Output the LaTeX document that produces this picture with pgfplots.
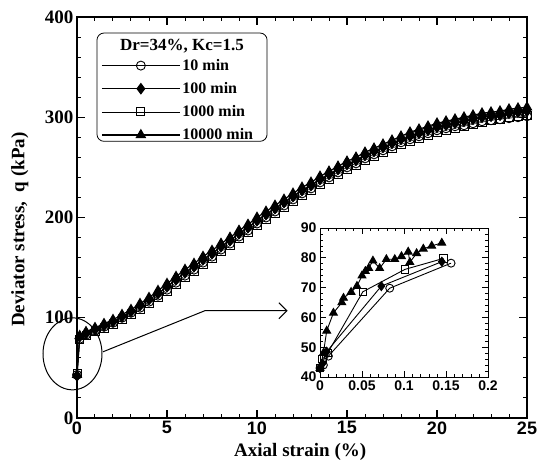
\documentclass[border=0pt]{standalone}
\usepackage{fontspec}
\setmainfont{Liberation Serif}
\setsansfont{Liberation Sans}
\usepackage{pgfplots}
\usepackage{pgfplotstable}
\pgfplotsset{compat=1.18}
\usetikzlibrary{arrows.meta}

% strain (%) vs deviator stress q (kPa), four ageing times
\pgfplotstableread{
x    q10  q100 q1000 q10000
0    43   42   44    43
0.15 79   81   78    82
0.5  83   84   82    86
1.0  87   88   86    90
1.5  91   92   89    94
2.0  95   96   93    98
2.5  100  101  98    103
3.0  105  106  103   108
3.5  110  112  108   114
4.0  116  118  114   120
4.5  122  124  120   127
5.0  128  131  126   134
5.5  135  138  133   141
6.0  142  145  140   148
6.5  148  151  146   154
7.0  155  158  153   161
7.5  161  164  159   167
8.0  168  171  166   174
8.5  174  177  172   180
9.0  181  184  179   187
9.5  187  190  185   193
10   194  197  192   200
10.5 200  203  198   206
11   206  209  204   212
11.5 212  215  210   218
12   218  221  216   224
12.5 224  227  222   230
13   229  232  227   235
13.5 235  238  233   241
14   240  243  238   246
14.5 245  248  243   251
15   250  253  248   256
15.5 254  257  252   260
16   259  262  257   265
16.5 263  266  261   269
17   267  270  265   273
17.5 271  274  269   277
18   275  278  273   281
18.5 278  281  276   285
19   281  284  279   288
19.5 284  287  282   291
20   287  290  285   294
20.5 289  292  287   296
21   291  294  289   298
21.5 292  296  291   300
22   294  298  293   302
22.5 296  300  295   304
23   297  301  297   305
23.5 298  302  298   306
24   299  304  300   308
24.5 300  305  301   309
25   301  306  302   310
}\maindata

% inset: small strains
\pgfplotstableread{
x     q
0     43
0.004 44
0.010 47
0.083 69.8
0.156 78.2
}\insA
\pgfplotstableread{
x     q
0     43
0.003 44.5
0.008 48.5
0.073 70.5
0.145 78.7
}\insB
\pgfplotstableread{
x     q
0     43
0.003 46
0.009 48
0.051 68.6
0.101 76.1
0.147 79.8
}\insC
\pgfplotstableread{
x     q
0     43
0.004 48
0.008 55.5
0.016 61.5
0.026 65
0.028 66.5
0.037 68.5
0.044 70.5
0.050 74
0.054 75.5
0.058 76.5
0.063 79
0.071 76.5
0.079 79.5
0.089 79.5
0.097 80.5
0.105 82
0.107 78.5
0.115 81.5
0.123 83
0.133 84
0.145 85
}\insD

\pgfplotsset{
  sA/.style={black, line width=0.5pt, mark=o, mark size=4.5pt,
    mark options={solid, fill=white, line width=0.9pt}},
  sB/.style={black, line width=1.2pt, mark=diamond*, mark size=5pt,
    mark options={solid, fill=black}},
  sC/.style={black, line width=0.5pt, mark=square, mark size=4pt,
    mark options={solid, fill=white, line width=0.9pt}},
  sD/.style={black, line width=1.2pt, mark=triangle*, mark size=5pt,
    mark options={solid, fill=black}},
}

\begin{document}
\begin{tikzpicture}
\begin{axis}[
  scale only axis,
  width=450pt, height=401pt,
  xmin=0, xmax=25, ymin=0, ymax=400,
  xtick={0,5,...,25}, ytick={0,100,...,400},
  minor x tick num=4, minor y tick num=4,
  tick pos=both, tick align=inside,
  major tick length=8pt, minor tick length=4pt,
  major tick style={line width=1.2pt, black},
  minor tick style={line width=1pt, black},
  axis line style={line width=1.6pt},
  clip=false,
  /pgf/number format/assume math mode=true,
  xticklabel style={font=\sffamily\bfseries\fontsize{18}{20}\selectfont},
  yticklabel style={font=\bfseries\fontsize{19}{21}\selectfont},
  xlabel={Axial strain (\%)},
  ylabel={Deviator stress,\ \ q (kPa)},
  label style={font=\bfseries\fontsize{19}{22}\selectfont},
  xlabel style={at={(axis description cs:0.496,-0.085)}, anchor=center},
  ylabel style={at={(axis description cs:-0.127,0.47)}, anchor=center},
  legend image code/.code={
    \draw[mark repeat=2, mark phase=2, #1]
      plot coordinates {(0pt,0pt) (39pt,0pt) (78pt,0pt)};},
  legend style={at={(axis cs:1.17,362)}, anchor=north west,
    draw=none, fill=none, row sep=6.5pt,
    font=\bfseries\fontsize{16}{18}\selectfont},
  legend cell align=left,
]
\addlegendimage{sA}
\addlegendentry{10 min}
\addlegendimage{sB}
\addlegendentry{100 min}
\addlegendimage{sC}
\addlegendentry{1000 min}
\addlegendimage{sD}
\addlegendentry{10000 min}

\addplot[sD, forget plot] table[x=x, y=q10000] {\maindata};
\addplot[sB, forget plot] table[x=x, y=q100] {\maindata};
\addplot[sC, forget plot] table[x=x, y=q1000] {\maindata};
\addplot[sA, forget plot] table[x=x, y=q10] {\maindata};

\draw[rounded corners=7pt, line width=0.8pt]
  (axis cs:1.11,384) rectangle (axis cs:10.56,276);
\node[font=\bfseries\fontsize{17}{20}\selectfont]
  at (axis cs:5.83,371) {Dr=34\%, Kc=1.5};

\draw[line width=1pt] (axis cs:-0.25,64) ellipse (29.5pt and 36pt);
\draw[line width=1pt, -{Straight Barb[length=8pt, width=16pt]}]
  (axis cs:1.44,66) -- (axis cs:7.1,107) -- (axis cs:11.7,107);
\end{axis}

\begin{axis}[
  at={(243pt,41pt)}, anchor=south west,
  scale only axis,
  width=168pt, height=149pt,
  xmin=0, xmax=0.2, ymin=40, ymax=90,
  xtick={0,0.05,0.1,0.15,0.2},
  xticklabels={0,0.05,0.1,0.15,0.2},
  ytick={40,50,...,90},
  minor x tick num=4, minor y tick num=4,
  tick pos=both, tick align=inside,
  major tick length=6pt, minor tick length=3pt,
  major tick style={line width=0.9pt, black},
  minor tick style={line width=0.7pt, black},
  axis line style={line width=1pt},
  clip=false,
  /pgf/number format/assume math mode=true,
  ticklabel style={font=\sffamily\bfseries\fontsize{14}{16}\selectfont},
]
\addplot[sA, line width=0.9pt, mark size=4pt] table {\insA};
\addplot[sB, line width=0.9pt, mark size=4.5pt] table {\insB};
\addplot[sC, line width=0.9pt, mark size=3.6pt] table {\insC};
\addplot[sD, line width=0.9pt, mark size=4.5pt] table {\insD};
\end{axis}
\pgfresetboundingbox
\path (-77pt,-48pt) rectangle (460pt,418pt);
\end{tikzpicture}
\end{document}
